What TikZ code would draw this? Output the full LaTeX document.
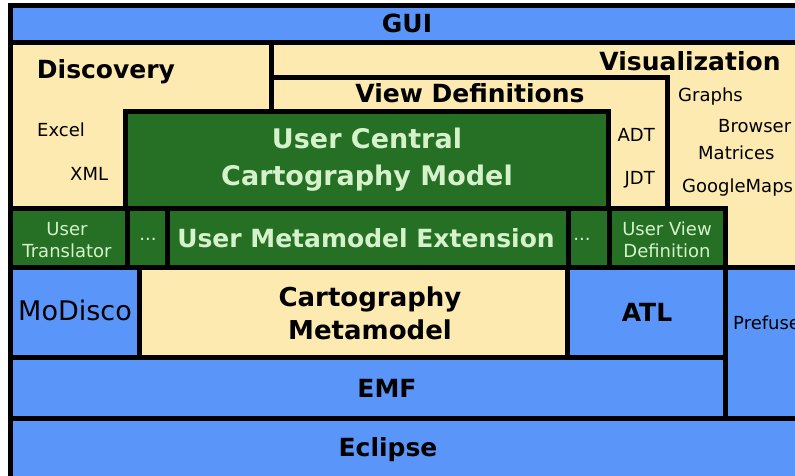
\documentclass[tikz,border=0pt]{standalone}
\usepackage{fontspec}
\setmainfont{DejaVu Sans}
\definecolor{layerblue}{RGB}{90,150,250}
\definecolor{layeryellow}{RGB}{253,234,176}
\definecolor{layergreen}{RGB}{38,112,38}
\definecolor{palegreen}{RGB}{214,242,202}

\begin{document}
\begin{tikzpicture}[x=1pt, y=-1pt,
                    box/.style={draw=black, line width=5pt},
                    bluebox/.style={box, fill=layerblue},
                    yellowbox/.style={box, fill=layeryellow},
                    greenbox/.style={box, fill=layergreen},
                    title/.style={font=\bfseries\fontsize{25}{30}\selectfont, anchor=base, inner sep=0pt},
                    item/.style={font=\fontsize{18}{22}\selectfont, anchor=base west, inner sep=0pt},
                    usertext/.style={font=\fontsize{18}{22}\selectfont, text=palegreen, align=center, anchor=base, inner sep=0pt}]
  \useasboundingbox (0,0) rectangle (795,476);
  \clip (0,0) rectangle (795,476);
  \path[bluebox] (10,6) rectangle (815,43);
  \path[yellowbox] (10,43) rectangle (271,208);
  \path[yellowbox] (271,43) rectangle (815,267);
  \path[yellowbox] (271,78) rectangle (667,208);
  \path[greenbox] (125,112) rectangle (608,208);
  \path[greenbox] (10,208) rectangle (127,267);
  \path[greenbox] (127,208) rectangle (167,267);
  \path[greenbox] (167,208) rectangle (568,267);
  \path[greenbox] (568,208) rectangle (609,267);
  \path[greenbox] (609,208) rectangle (725,267);
  \path[bluebox] (10,267) rectangle (139,357);
  \path[yellowbox] (139,267) rectangle (567,357);
  \path[bluebox] (567,267) rectangle (725,357);
  \path[bluebox] (725,267) rectangle (815,418);
  \path[bluebox] (10,357) rectangle (725,418);
  \path[bluebox] (10,418) rectangle (815,480);

  \node[title] (gui) at (407,33) {GUI};
  \node[title] (discovery) at (106,79) {Discovery};
  \node[title] (visualization) at (690,71) {Visualization};
  \node[title] (viewdefs) at (470,103) {View Definitions};
  \node[item] (excel) at (37,137) {Excel};
  \node[item] (xml) at (70,180) {XML};
  \node[item, anchor=base east] (adt) at (655,142) {ADT};
  \node[item, anchor=base east] (jdt) at (655,184) {JDT};
  \node[item] (graphs) at (678,102) {Graphs};
  \node[item] (browser) at (718,132) {Browser};
  \node[item] (matrices) at (698,160) {Matrices};
  \node[item] (googlemaps) at (682,192) {GoogleMaps};
  \node[title, text=palegreen, align=center, font=\bfseries\fontsize{27}{36}\selectfont] (central) at (367,185) {User Central\\Cartography Model};
  \node[usertext] (translator) at (67,257) {User\\Translator};
  \node[usertext] (dotsleft) at (148,240) {...};
  \node[title, text=palegreen] (extension) at (366,247) {User Metamodel Extension};
  \node[usertext] (dotsright) at (582,240) {...};
  \node[usertext] (userview) at (667,257) {User View\\Definition};
  \node[item, anchor=base, font=\fontsize{27}{32}\selectfont] (modisco) at (75,320) {MoDisco};
  \node[title, align=center, font=\bfseries\fontsize{26}{33}\selectfont] (metamodel) at (370,339) {Cartography\\Metamodel};
  \node[title] (atl) at (647,321) {ATL};
  \node[item] (prefuse) at (733,329) {Prefuse};
  \node[title] (emf) at (387,397) {EMF};
  \node[title] (eclipse) at (388,456) {Eclipse};
\end{tikzpicture}
\end{document}
